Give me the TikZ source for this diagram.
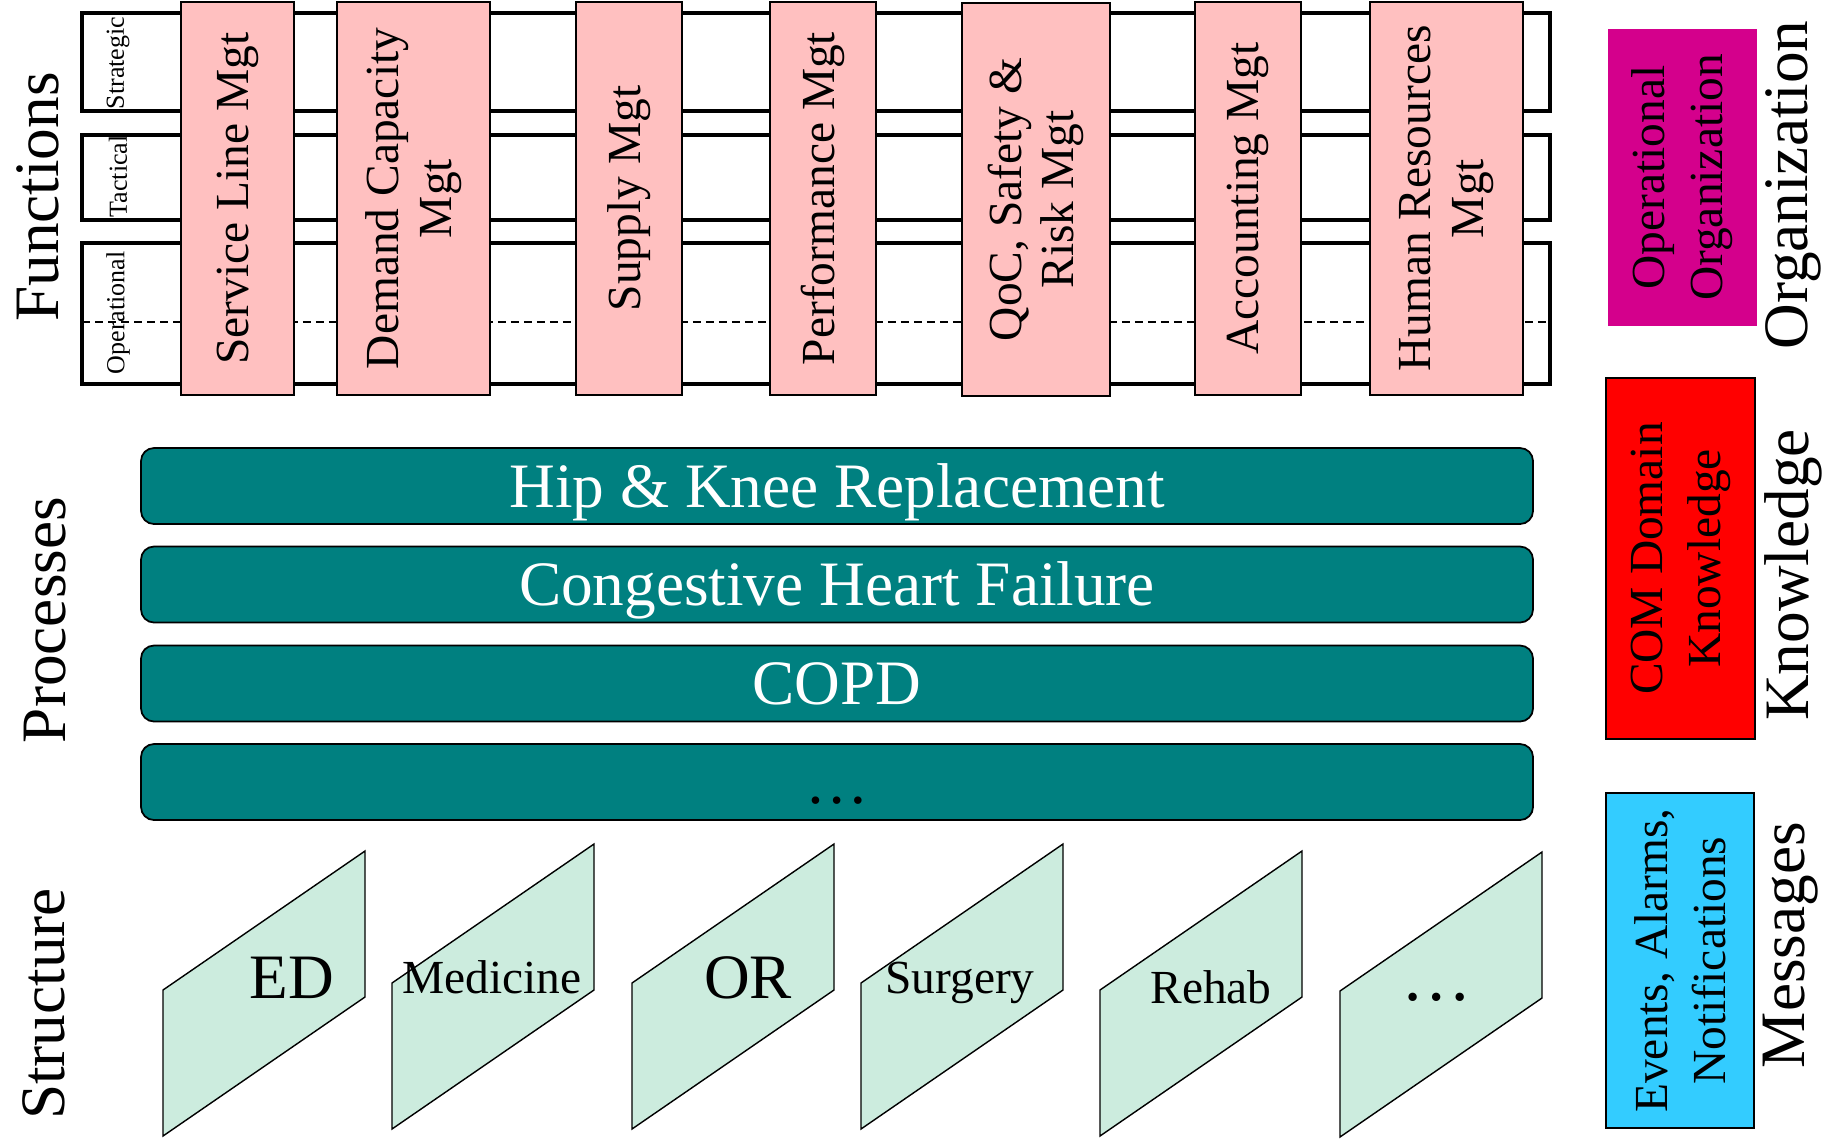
\documentclass[tikz,border=0pt]{standalone}
\usepackage{fontspec}
\setmainfont{Liberation Serif}
\definecolor{fpink}{RGB}{255,192,192}
\definecolor{procteal}{RGB}{0,128,128}
\definecolor{unitmint}{RGB}{204,236,222}
\definecolor{orgmag}{RGB}{212,0,140}
\definecolor{msgcyan}{RGB}{51,204,255}
\begin{document}
\begin{tikzpicture}[x=0.1mm,y=-0.1mm,
  layer/.style={rotate=90,inner sep=0pt,font=\fontsize{18}{20}\selectfont},
  fbox/.style={draw=black,line width=0.3pt,fill=fpink,rotate=90,minimum width=39.3mm,inner sep=0pt,align=center,font=\fontsize{13.5}{15}\selectfont},
  lvl/.style={rotate=90,anchor=west,inner sep=0pt,font=\fontsize{7.4}{8}\selectfont},
  levelbox/.style={line width=1.2pt},
  bar/.style={draw=black,line width=0.5pt,fill=procteal,rounded corners=1.3mm,minimum width=139.2mm,minimum height=7.6mm,inner sep=0pt,text=white,text height=12pt,text depth=0pt,font=\fontsize{18}{20}\selectfont},
  sidebox/.style={rotate=90,draw=black,line width=0.5pt,inner sep=0pt,align=center,font=\fontsize{13.5}{16.5}\selectfont},
  unit/.style={draw=black,line width=0.4pt,fill=unitmint},
  ulbl/.style={anchor=base,inner sep=0pt,font=\fontsize{13.5}{14}\selectfont},
  bigulbl/.style={ulbl,font=\fontsize{18}{20}\selectfont}]
\useasboundingbox (0,0) rectangle (1837,1141);
\node[layer] (fun) at (38,197) {Functions}; \node[layer] (pro) at (45,620) {Processes}; \node[layer] (str) at (44,1004) {Structure};
\node[layer] (orl) at (1793,185) {Organization}; \node[layer] (knl) at (1793,575) {Knowledge}; \node[layer] (msl) at (1791,945) {Messages};
\draw[levelbox] (82,13) rectangle (1550,111); \draw[levelbox] (82,135) rectangle (1550,220); \draw[levelbox] (82,243) rectangle (1550,384);
\draw[line width=0.4pt,dash pattern=on 0.8mm off 0.5mm] (82,322) -- (1550,322);
\node[lvl] (strat) at (118,110) {Strategic}; \node[lvl] (tact) at (118,218) {Tactical}; \node[lvl] (oper) at (118,375) {Operational};
\node[fbox,minimum height=11.3mm] (svc) at (237.5,198.5) {Service Line Mgt};
\node[fbox,minimum height=15.3mm] (dcm) at (413.5,198.5) {Demand Capacity\\Mgt};
\node[fbox,minimum height=10.6mm] (sup) at (629,198.5) {Supply Mgt};
\node[fbox,minimum height=10.6mm] (prf) at (823,198.5) {Performance Mgt};
\node[fbox,minimum height=14.8mm] (qoc) at (1036,199.5) {QoC, Safety \&\\Risk Mgt};
\node[fbox,minimum height=10.6mm] (acc) at (1248,198.5) {Accounting Mgt};
\node[fbox,minimum height=15.3mm] (hrm) at (1446.5,198.5) {Human Resources\\Mgt};
\node[bar] (hip) at (837,486) {Hip \& Knee Replacement};
\node[bar] (chf) at (837,584.5) {Congestive Heart Failure};
\node[bar] (copd) at (837,683.5) {COPD};
\node[bar,text=black] (more) at (837,782) {…};
\node[sidebox,fill=orgmag,draw=none,minimum width=29.7mm,minimum height=14.9mm] (org) at (1682.5,177.5) {Operational\\Organization};
\node[sidebox,fill=red,minimum width=36.1mm,minimum height=14.9mm] (cdk) at (1680.5,558.5) {COM Domain\\Knowledge};
\node[sidebox,fill=msgcyan,minimum width=33.5mm,minimum height=14.8mm] (ean) at (1680,960.5) {Events, Alarms,\\Notifications};
\draw[unit] (163,990) -- ++(202,-139) -- ++(0,146) -- ++(-202,139) -- cycle;
\draw[unit] (392,983) -- ++(202,-139) -- ++(0,146) -- ++(-202,139) -- cycle;
\draw[unit] (632,983) -- ++(202,-139) -- ++(0,146) -- ++(-202,139) -- cycle;
\draw[unit] (861,983) -- ++(202,-139) -- ++(0,146) -- ++(-202,139) -- cycle;
\draw[unit] (1100,990) -- ++(202,-139) -- ++(0,146) -- ++(-202,139) -- cycle;
\draw[unit] (1340,991) -- ++(202,-139) -- ++(0,146) -- ++(-202,139) -- cycle;
\node[bigulbl] (ed) at (292,998) {ED}; \node[ulbl] (med) at (492,993) {Medicine}; \node[bigulbl] (orm) at (748,998) {OR};
\node[ulbl] (srg) at (960,993) {Surgery}; \node[ulbl] (reh) at (1211,1003) {Rehab}; \node[ulbl,font=\fontsize{20}{22}\selectfont] (etc) at (1437,1000) {…};
\end{tikzpicture}
\end{document}
